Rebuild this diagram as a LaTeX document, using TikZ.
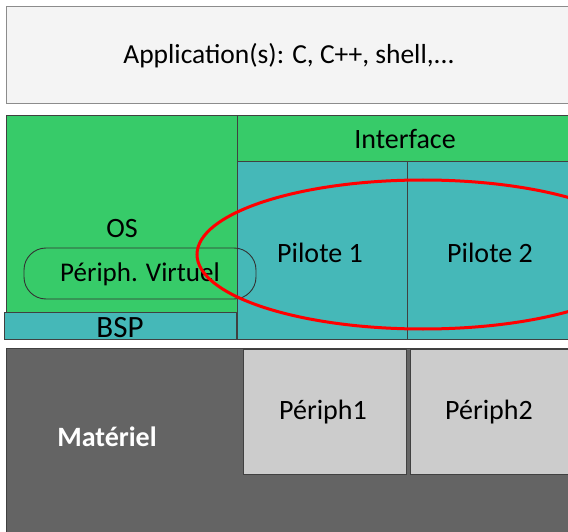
\documentclass[tikz,border=0pt]{standalone}
\usepackage{fontspec}
\setmainfont{Carlito}
\usepackage{tikz}
\usetikzlibrary{shapes,positioning}
\definecolor{osgreen}{RGB}{55,203,105}
\definecolor{piloteteal}{RGB}{69,184,184}
\definecolor{appgray}{RGB}{244,244,244}
\definecolor{hwgray}{RGB}{100,100,100}
\definecolor{periphgray}{RGB}{204,204,204}
\tikzset{
	layer/.style={draw=black!75, line width=0.9pt, inner sep=0pt, anchor=north west},
	applayer/.style={layer, draw=black!45, fill=appgray},
	oslayer/.style={layer, fill=osgreen},
	drvlayer/.style={layer, fill=piloteteal},
	hwlayer/.style={layer, fill=hwgray},
	periphlayer/.style={layer, fill=periphgray},
	virtbox/.style={draw=black!80, line width=0.9pt, rounded corners=22pt, inner sep=0pt},
	txt/.style={font=\fontsize{28}{30}\selectfont},
	zone/.style={draw=red, line width=3pt, ellipse, inner sep=0pt},
}
\begin{document}
\begin{tikzpicture}[x=1pt, y=-1pt]
	\useasboundingbox (0,0) rectangle (568,532);
	\begin{scope}
	\clip (0,0) rectangle (568,532);
	% application layer
	\node[applayer, minimum width=575pt, minimum height=97pt] (app) at (6,6) {};
	\node[font=\fontsize{27.5}{30}\selectfont] (apptxt) at (289,56) {Application(s): C, C++, shell,...};
	% OS and drivers
	\node[oslayer, minimum width=231pt, minimum height=197pt] (os) at (6,115) {};
	\node[oslayer, minimum width=340pt, minimum height=46pt] (itf) at (237,115) {};
	\node[drvlayer, minimum width=170pt, minimum height=178pt] (pil1) at (237,161) {};
	\node[drvlayer, minimum width=170pt, minimum height=178pt] (pil2) at (407,161) {};
	\node[drvlayer, minimum width=232pt, minimum height=27pt] (bsp) at (4,312) {};
	\node[virtbox, minimum width=232pt, minimum height=51pt] (virt) at (140,273.5) {};
	\node[txt] at (122,229) {OS};
	\node[font=\fontsize{27}{30}\selectfont] at (140,274) {Périph. Virtuel};
	\node[txt] at (405,139) {Interface};
	\node[txt] at (320,253) {Pilote 1};
	\node[txt] at (490,253) {Pilote 2};
	\node[font=\fontsize{31}{32}\selectfont] at (120,328) {BSP};
	% hardware
	\node[hwlayer, minimum width=575pt, minimum height=190pt] (hw) at (6,348) {};
	\node[periphlayer, minimum width=163pt, minimum height=125pt] (per1) at (243,349) {};
	\node[periphlayer, minimum width=165pt, minimum height=125pt] (per2) at (410,349) {};
	\node[text=white, font=\fontsize{28}{30}\selectfont\bfseries] at (107,437) {Matériel};
	\node[txt] at (323,412) {Périph1};
	\node[txt] at (489,412) {Périph2};
	% zone of the drivers
	\node[zone, minimum width=452pt, minimum height=149pt] (zone) at (423,254.5) {};
	\end{scope}
\end{tikzpicture}
\end{document}
